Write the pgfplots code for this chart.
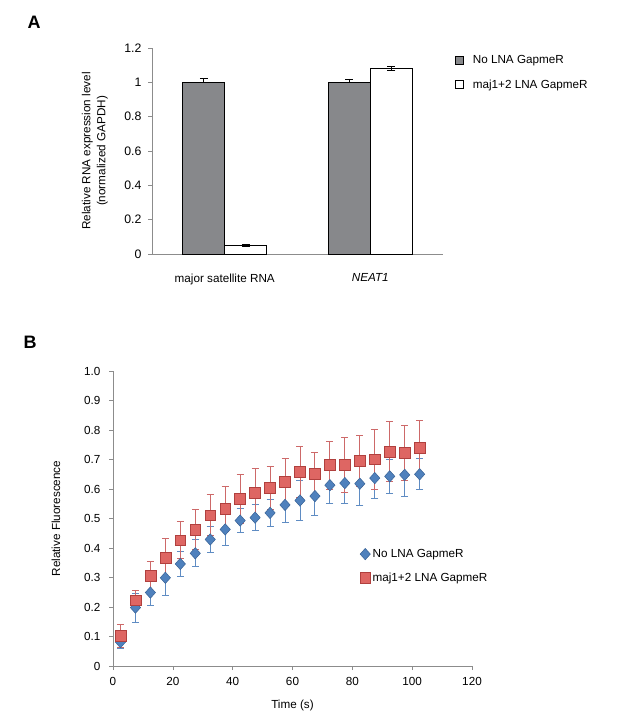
\documentclass[border=0pt]{standalone}
\usepackage{pgfplots}
\usepackage{pgfplotstable}
\pgfplotsset{compat=1.18}
\usepackage{fontspec}
\setmainfont{Liberation Sans}
\definecolor{axisgray}{RGB}{140,140,140}
\definecolor{bargray}{RGB}{135,136,139}
\definecolor{bluefill}{RGB}{79,129,189}
\definecolor{blueline}{RGB}{56,98,150}
\definecolor{blueerr}{RGB}{95,140,195}
\definecolor{redfill}{RGB}{222,102,99}
\definecolor{redline}{RGB}{176,64,62}
\definecolor{rederr}{RGB}{205,105,105}

% panel B: time, no LNA, error, maj1+2, error
\pgfplotstableread{
t     b      be     r      re
2.5   0.081  0.022  0.102  0.040
7.5   0.198  0.049  0.223  0.032
12.5  0.249  0.043  0.305  0.051
17.5  0.299  0.061  0.367  0.064
22.5  0.346  0.044  0.426  0.063
27.5  0.382  0.046  0.463  0.068
32.5  0.429  0.044  0.511  0.070
37.5  0.463  0.056  0.533  0.076
42.5  0.493  0.041  0.566  0.083
47.5  0.503  0.044  0.587  0.083
52.5  0.519  0.045  0.605  0.073
57.5  0.546  0.061  0.624  0.078
62.5  0.561  0.067  0.658  0.087
67.5  0.576  0.067  0.652  0.072
72.5  0.613  0.063  0.681  0.081
77.5  0.620  0.068  0.681  0.094
82.5  0.618  0.074  0.695  0.087
87.5  0.637  0.070  0.701  0.102
92.5  0.643  0.057  0.726  0.102
97.5  0.648  0.074  0.723  0.094
102.5 0.650  0.052  0.741  0.090
}\fluor

\newcommand\txt{\fontsize{11.7}{15}\selectfont}

\pgfplotsset{
  panel/.style={
    scale only axis,
    anchor=south west,
    axis lines=left,
    axis line style={axisgray,-},
    every tick/.style={axisgray},
    tick align=outside,
    major tick length=4pt,
    /pgf/number format/assume math mode=true,
    tick label style={font=\txt},
    legend style={font=\txt},
    clip=false,
  },
}

\begin{document}
\begin{tikzpicture}
\path[use as bounding box] (0pt,0pt) rectangle (617pt,-725pt);
\node[font=\bfseries\fontsize{18}{18}\selectfont] at (34pt,-22pt) {A};
\node[font=\bfseries\fontsize{18}{18}\selectfont] at (30pt,-342pt) {B};

\begin{axis}[panel,
  at={(152pt,-254pt)}, width=291pt, height=206pt,
  ybar=0pt, bar width=42pt,
  xmin=-0.5, xmax=1.5, ymin=0, ymax=1.2,
  xtick={0,1}, xticklabels={major satellite RNA,\textit{NEAT1}},
  major x tick style={draw=none},
  xticklabel style={yshift=-12pt},
  ytick={0,0.2,0.4,0.6,0.8,1,1.2},
  yticklabel style={font=\fontsize{12.3}{14}\selectfont, xshift=-3pt},
  every axis y label/.style={at={(axis description cs:-0.196,0.5)},rotate=90,anchor=center,align=center,font=\txt},
  ylabel={Relative RNA expression level\\(normalized GAPDH)},
  legend style={at={(1.03,0.985)}, anchor=north west, draw=none, fill=none,
    row sep=11pt},
  legend cell align=left,
  legend image code/.code={\draw[#1] (0pt,-4pt) rectangle (8pt,4pt); \path (15pt,0pt);},
]
\addplot[draw=black, fill=bargray, line width=0.9pt,
  error bars/.cd, y dir=plus, y explicit,
  error bar style={black, line width=0.8pt},
  error mark options={rotate=90, mark size=4pt, black, line width=0.8pt}]
  coordinates {(0,1.0) +- (0,0.022) (1,1.0) +- (0,0.02)};
\addplot[draw=black, fill=white, line width=0.9pt,
  error bars/.cd, y dir=both, y explicit,
  error bar style={black, line width=0.8pt},
  error mark options={rotate=90, mark size=4pt, black, line width=0.8pt}]
  coordinates {(0,0.05) +- (0,0.004) (1,1.08) +- (0,0.01)};
\legend{No LNA GapmeR, maj1+2 LNA GapmeR}
\end{axis}

\begin{axis}[panel,
  at={(113pt,-666pt)}, width=359pt, height=295pt,
  xmin=0, xmax=120, ymin=0, ymax=1,
  xtick={0,20,40,60,80,100,120},
  ytick={0,0.1,0.2,0.3,0.4,0.5,0.6,0.7,0.8,0.9,1},
  yticklabels={0,0.1,0.2,0.3,0.4,0.5,0.6,0.7,0.8,0.9,1.0},
  xticklabel style={yshift=-4pt},
  yticklabel style={xshift=-5pt},
  xlabel={Time (s)},
  ylabel={Relative Fluorescence},
  every axis x label/.style={at={(axis description cs:0.5,-0.135)},anchor=center,font=\txt},
  every axis y label/.style={at={(axis description cs:-0.159,0.5)},rotate=90,anchor=center,font=\txt},
  legend style={at={(0.687,0.41)}, anchor=north west, draw=none, fill=none,
    row sep=10pt, inner xsep=0pt},
  legend cell align=left,
]
\addplot[only marks, mark=diamond*, mark size=5.7pt,
  mark options={fill=bluefill, draw=blueline, line width=0.5pt, xscale=1.2},
  error bars/.cd, y dir=both, y explicit,
  error bar style={blueerr, line width=0.9pt},
  error mark options={rotate=90, mark size=3.5pt, blueerr, line width=0.9pt}]
  table[x=t, y=b, y error=be] {\fluor};
\addplot[only marks, mark=square*, mark size=5.4pt,
  mark options={fill=redfill, draw=redline, line width=0.5pt},
  error bars/.cd, y dir=both, y explicit,
  error bar style={rederr, line width=0.9pt},
  error mark options={rotate=90, mark size=3.5pt, rederr, line width=0.9pt}]
  table[x=t, y=r, y error=re] {\fluor};
\legend{No LNA GapmeR, maj1+2 LNA GapmeR}
\end{axis}
\end{tikzpicture}
\end{document}
